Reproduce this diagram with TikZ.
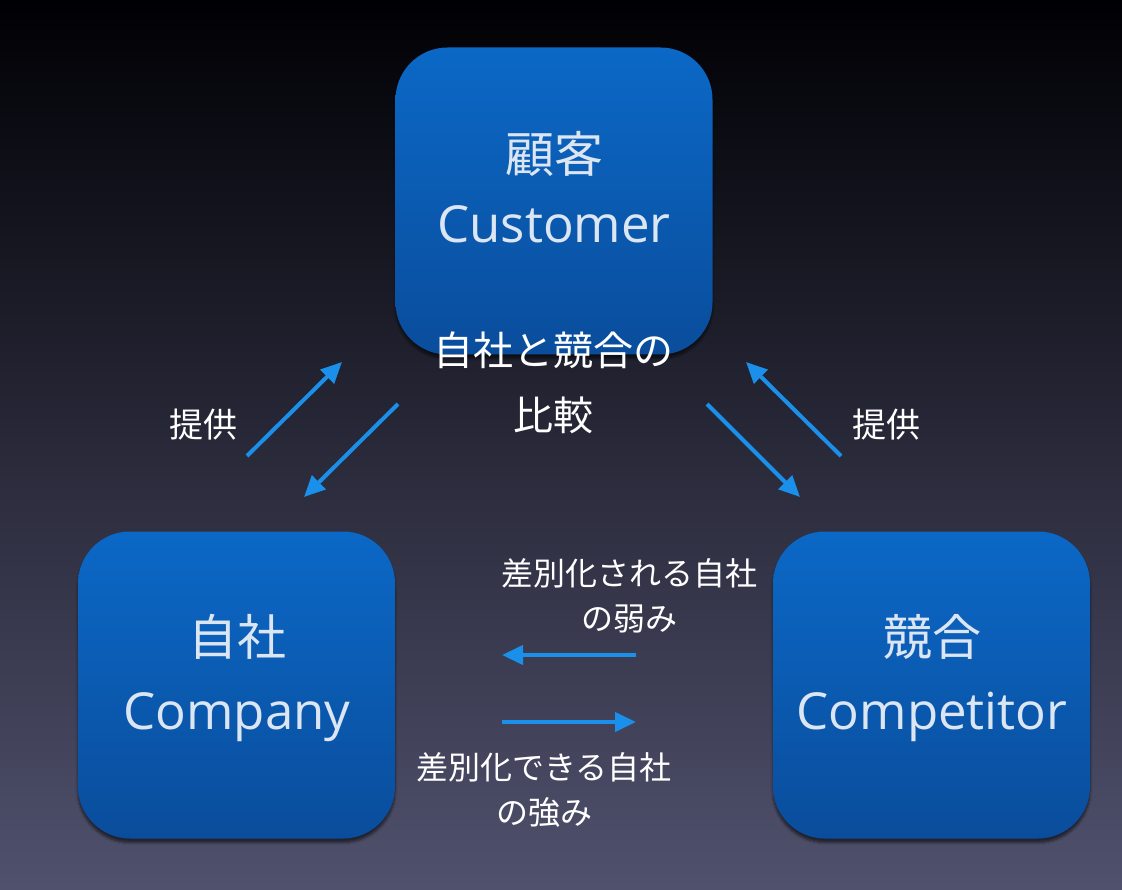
\documentclass[tikz,border=0pt]{standalone}
\usepackage{fontspec}
\setmainfont{Noto Sans CJK JP}
\newfontfamily\latinfont{Open Sans}
\usetikzlibrary{arrows.meta,shadows.blur}
\definecolor{bgtop}{HTML}{000004}
\definecolor{bgmid}{HTML}{171830}
\definecolor{bgbot}{HTML}{50516D}
\definecolor{boxtop}{HTML}{0B68C6}
\definecolor{boxbot}{HTML}{0A4D9C}
\definecolor{boxtext}{HTML}{DCE6F2}
\definecolor{arrowblue}{HTML}{1A90EA}
\tikzset{
  box/.style={draw=none, rounded corners=52pt, minimum width=317pt, minimum height=307pt,
    top color=boxtop, bottom color=boxbot,
    blur shadow={shadow xshift=0pt, shadow yshift=-4pt, shadow blur steps=8, shadow opacity=55}},
  boxja/.style={inner sep=0pt, text=boxtext, font=\fontsize{49pt}{58pt}\selectfont},
  boxen/.style={inner sep=0pt, text=boxtext, anchor=base, font=\latinfont\fontsize{51pt}{60pt}\selectfont},
  lbl/.style={inner sep=0pt, text=white, font=\fontsize{40pt}{48pt}\selectfont},
  slbl/.style={inner sep=0pt, text=white, font=\fontsize{34pt}{40pt}\selectfont},
  nlbl/.style={inner sep=0pt, text=white, font=\fontsize{32pt}{38pt}\selectfont},
  arr/.style={draw=arrowblue, line width=4pt, -{Triangle[length=21pt, width=19pt]}}
}
\begin{document}
\begin{tikzpicture}[x=1pt, y=-1pt]
\useasboundingbox (0,0) rectangle (1122,890);
\shade[top color=bgtop, middle color=bgmid, bottom color=bgbot] (0,0) rectangle (1122,890);

% boxes
\node[box] (customer) at (554,201) {};
\node[box] (company) at (236.5,685) {};
\node[box] (competitor) at (931.5,685) {};

\node[boxja] (custja) at (554,154) {顧客};
\node[boxen] (custen) at (554,243) {Customer};
\node[boxja] (compja) at (237,637) {自社};
\node[boxen] (compen) at (237,729) {Company};
\node[boxja] (rivalja) at (932,637) {競合};
\node[boxen] (rivalen) at (932,729) {Competitor};

% labels
\node[lbl] (cmp1) at (553,350) {自社と競合の};
\node[lbl] (cmp2) at (553,415) {比較};
\node[slbl] (prov1) at (203,425) {提供};
\node[slbl] (prov2) at (886,425) {提供};
\node[nlbl] (weak1) at (629,573) {差別化される自社};
\node[nlbl] (weak2) at (629,619) {の弱み};
\node[nlbl] (str1) at (544,767) {差別化できる自社};
\node[nlbl] (str2) at (544,812) {の強み};

% arrow end points
\coordinate (l1s) at (247,456); \coordinate (l1e) at (342,362);
\coordinate (l2s) at (398,404); \coordinate (l2e) at (304,497);
\coordinate (r1s) at (841,456); \coordinate (r1e) at (746,362);
\coordinate (r2s) at (707,404); \coordinate (r2e) at (800,497);
\coordinate (h1s) at (636,655); \coordinate (h1e) at (502,655);
\coordinate (h2s) at (502,722); \coordinate (h2e) at (636,722);

\draw[arr] (l1s) -- (l1e);
\draw[arr] (l2s) -- (l2e);
\draw[arr] (r1s) -- (r1e);
\draw[arr] (r2s) -- (r2e);
\draw[arr] (h1s) -- (h1e);
\draw[arr] (h2s) -- (h2e);
\end{tikzpicture}
\end{document}
